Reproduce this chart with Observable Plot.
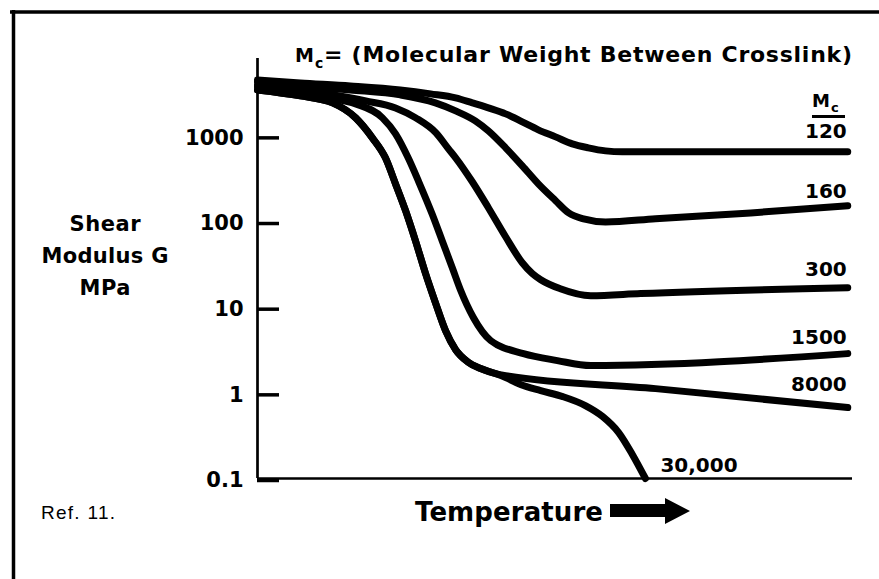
<!DOCTYPE html>
<html>
<head>
<meta charset="utf-8">
<script src="https://cdn.jsdelivr.net/npm/d3@7"></script>
<script src="https://cdn.jsdelivr.net/npm/@observablehq/plot@0.6"></script>
<style>
  html, body { margin: 0; padding: 0; background: #fff; }
  #wrap { position: relative; width: 879px; height: 579px; overflow: hidden; background: #fff; }
  #wrap svg { position: absolute; left: 0; top: 0; }
</style>
</head>
<body>
<div id="wrap"></div>
<script>
// ---- Data (temperature in arbitrary units 0–100, shear modulus G in MPa) ----
const seriesNames = ["120", "160", "300", "1500", "8000", "30,000"];

const t120 = [0, 7.2, 15.6, 24.0, 29.1, 33.3, 36.1, 38.8, 41.7, 44.5, 47.2, 50.1, 52.9, 55.6, 58.5, 61.3, 66.9, 99.2];
const g120 = [4500, 4150, 3830, 3435, 3090, 2773, 2427, 2120, 1806, 1456, 1175, 973, 807, 725, 668, 651, 651, 651];

const t160 = [0, 7.2, 15.6, 24.0, 29.9, 33.3, 36.6, 38.8, 41.7, 44.5, 47.2, 50.1, 52.3, 54.6, 58.5, 66.9, 82.9, 99.2];
const g160 = [4266, 3830, 3435, 3006, 2427, 1958, 1496, 1143, 725, 447, 275, 175, 126, 108, 99, 108, 126, 153];

const t300 = [0, 7.2, 13.8, 18.2, 23.2, 26.6, 30.0, 32.1, 33.3, 36.1, 38.8, 41.7, 44.5, 46.2, 47.6, 50.9, 56.0, 64.4, 99.2];
const g300 = [3935, 3435, 2926, 2560, 2120, 1622, 1084, 705, 554, 291, 145, 66.4, 33.0, 24.6, 20.9, 16.4, 13.6, 14.4, 16.9];

const t1500 = [0, 7.2, 12.3, 16.5, 21.0, 23.2, 25.4, 27.1, 29.4, 31.1, 32.8, 34.1, 36.3, 39.2, 44.7, 50.4, 56.0, 99.2];
const g1500 = [3727, 3172, 2773, 2360, 1622, 1055, 540, 291, 120, 58.1, 28.1, 16.0, 7.54, 4.07, 2.87, 2.38, 2.08, 2.87];

const t8000 = [0, 7.2, 12.6, 16.5, 19.3, 21.5, 23.2, 24.9, 26.6, 28.2, 29.9, 31.6, 33.3, 35.3, 37.5, 40.0, 41.7, 66.9, 99.2];
const g8000 = [3435, 2926, 2427, 1622, 948, 554, 275, 133, 58.1, 25.2, 11.3, 5.32, 3.19, 2.31, 1.92, 1.68, 1.59, 1.12, 0.673];

const t30000 = [0, 7.2, 12.6, 16.5, 19.3, 21.5, 23.2, 24.9, 26.6, 28.2, 29.9, 31.6, 33.3, 35.3, 37.5, 40.0, 41.7, 44.2, 47.6, 51.3, 55.1, 58.0, 60.7, 63.0, 65.2];
const g30000 = [3435, 2926, 2427, 1622, 948, 554, 275, 133, 58.1, 25.2, 11.3, 5.32, 3.19, 2.31, 1.92, 1.68, 1.51, 1.25, 1.06, 0.904, 0.710, 0.529, 0.344, 0.191, 0.1];

const yTicks = [0.1, 1, 10, 100, 1000];
const yTickLabels = ["0.1", "1", "10", "100", "1000"];

// ---- Build table ----
const tArrays = [t120, t160, t300, t1500, t8000, t30000];
const gArrays = [g120, g160, g300, g1500, g8000, g30000];
const rows = [];
seriesNames.forEach((name, k) => {
  tArrays[k].forEach((t, i) => rows.push({series: name, t, g: gArrays[k][i]}));
});
const ends = seriesNames.map((name, k) => ({series: name, t: tArrays[k][tArrays[k].length - 1], g: gArrays[k][gArrays[k].length - 1]}));

// label offsets relative to each curve's end (style only)
const labelOffset = {"120": [-1, -14], "160": [-1, -8], "300": [-1, -12], "1500": [-1, -10], "8000": [-1, -17], "30,000": [15, -7]};

const labelMarks = ends.map(e => Plot.text([e], {
  x: "t", y: "g", text: "series",
  textAnchor: e.series === "30,000" ? "start" : "end",
  lineAnchor: "bottom",
  dx: labelOffset[e.series][0], dy: labelOffset[e.series][1],
  fontSize: 20, fontWeight: "bold", fill: "#000"
}));

const chart = Plot.plot({
  width: 879,
  height: 579,
  marginLeft: 257,
  marginRight: 27,
  marginTop: 58,
  marginBottom: 101,
  x: {domain: [0, 100], axis: null},
  y: {type: "log", domain: [0.1, 8000]},
  style: {fontFamily: "'DejaVu Sans', sans-serif", background: "transparent", color: "#000", overflow: "visible"},
  marks: [
    Plot.ruleX([0], {stroke: "#000", strokeWidth: 2.7}),
    Plot.ruleY([0.1], {stroke: "#000", strokeWidth: 2.7}),
    Plot.axisY(yTicks, {
      tickSize: -22, tickPadding: 36, dy: 2,
      tickFormat: d => yTickLabels[yTicks.indexOf(d)],
      fontSize: 21, fontWeight: "bold",
      stroke: "#000", strokeWidth: 3.5, label: null
    }),
    Plot.line(rows, {
      x: "t", y: "g", z: "series",
      stroke: "#000", strokeWidth: 7, curve: "monotone-x",
      strokeLinecap: "round", strokeLinejoin: "round"
    }),
    ...labelMarks
  ]
});

const wrap = document.getElementById("wrap");
wrap.appendChild(chart);

// ---- Annotations (title, axis labels, frame) ----
const deco = `
<svg width="879" height="579" xmlns="http://www.w3.org/2000/svg" font-family="'DejaVu Sans', sans-serif" fill="#000">
  <line x1="10" y1="12" x2="879" y2="12" stroke="#000" stroke-width="3.5"/>
  <line x1="13.5" y1="10" x2="13.5" y2="579" stroke="#000" stroke-width="3.5"/>
  <text x="295" y="62" font-size="19" font-weight="bold">M</text>
  <text x="315" y="68" font-size="14" font-weight="bold">c</text>
  <text x="324" y="62" font-size="22" font-weight="bold" textLength="528" lengthAdjust="spacing">= (Molecular Weight Between Crosslink)</text>
  <text x="812" y="107" font-size="18" font-weight="bold">M</text>
  <text x="831" y="112" font-size="13" font-weight="bold">c</text>
  <line x1="812" y1="116.5" x2="845" y2="116.5" stroke="#000" stroke-width="3"/>
  <text x="105" y="230.5" text-anchor="middle" font-size="21" font-weight="bold" textLength="71" lengthAdjust="spacing">Shear</text>
  <text x="105" y="262.5" text-anchor="middle" font-size="21" font-weight="bold" textLength="127" lengthAdjust="spacing">Modulus G</text>
  <text x="105" y="294.5" text-anchor="middle" font-size="21" font-weight="bold" textLength="51" lengthAdjust="spacing">MPa</text>
  <text x="415" y="521" font-size="26" font-weight="bold" textLength="188" lengthAdjust="spacing">Temperature</text>
  <polygon points="610,504 665,504 665,498 690,511 665,524 665,517 610,517" fill="#000"/>
  <text x="41" y="519" font-size="19" font-family="'Liberation Sans', Arial, sans-serif" textLength="74" lengthAdjust="spacing">Ref. 11.</text>
</svg>`;
wrap.insertAdjacentHTML("beforeend", deco);
</script>
</body>
</html>
